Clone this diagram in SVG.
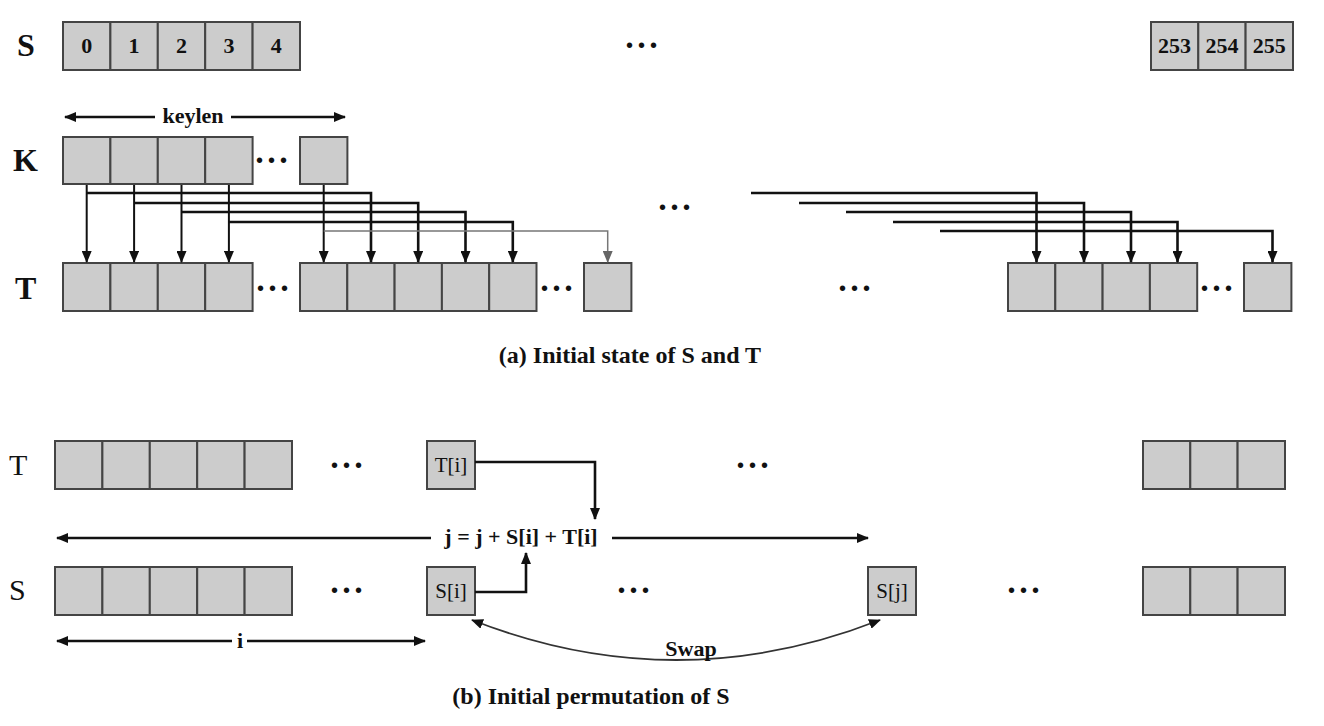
<svg xmlns="http://www.w3.org/2000/svg" width="1324" height="726" viewBox="0 0 1324 726">
<style>
.cell{fill:#cccccc;stroke:#444;stroke-width:2}
.lbl{font-family:"Liberation Serif",serif;font-weight:bold;font-size:32px;fill:#111}
.lblr{font-family:"Liberation Serif",serif;font-size:30px;fill:#111}
.num{font-family:"Liberation Serif",serif;font-weight:bold;font-size:22px;fill:#111;text-anchor:middle}
.t{font-family:"Liberation Serif",serif;font-weight:bold;font-size:22px;fill:#111;text-anchor:middle}
.tr{font-family:"Liberation Serif",serif;font-size:21px;fill:#111;text-anchor:middle}
.cap{font-family:"Liberation Serif",serif;font-weight:bold;font-size:24px;fill:#111;text-anchor:middle}
.dots{font-family:"Liberation Sans",sans-serif;font-size:20px;letter-spacing:5px;fill:#111}
.ln{fill:none;stroke:#111;stroke-width:2.6}
.lv{fill:none;stroke:#111;stroke-width:2}
.lg{fill:none;stroke:#777;stroke-width:1.5}
</style>
<defs>
<marker id="ah" markerWidth="12" markerHeight="10" refX="11" refY="5" orient="auto-start-reverse" markerUnits="userSpaceOnUse" viewBox="0 0 12 10"><path d="M0,0 L12,5 L0,10 z" fill="#111"/></marker>
<marker id="ahg" markerWidth="12" markerHeight="10" refX="11" refY="5" orient="auto-start-reverse" markerUnits="userSpaceOnUse" viewBox="0 0 12 10"><path d="M0,0 L12,5 L0,10 z" fill="#666"/></marker>
</defs>
<rect width="1324" height="726" fill="#fff"/>

<!-- (a) -->
<g id="S-top">
<text class="lbl" x="17" y="56">S</text>
<rect class="cell" x="63" y="22" width="47.4" height="48"/>
<rect class="cell" x="110.4" y="22" width="47.4" height="48"/>
<rect class="cell" x="157.8" y="22" width="47.4" height="48"/>
<rect class="cell" x="205.2" y="22" width="47.4" height="48"/>
<rect class="cell" x="252.6" y="22" width="47.4" height="48"/>
<text class="num" x="86.7" y="53">0</text>
<text class="num" x="134.1" y="53">1</text>
<text class="num" x="181.5" y="53">2</text>
<text class="num" x="228.9" y="53">3</text>
<text class="num" x="276.3" y="53">4</text>
<text class="dots" x="626" y="52">•••</text>
<rect class="cell" x="1151" y="22" width="47.3" height="48"/>
<rect class="cell" x="1198.3" y="22" width="47.3" height="48"/>
<rect class="cell" x="1245.6" y="22" width="47.4" height="48"/>
<text class="num" x="1174.6" y="53">253</text>
<text class="num" x="1222" y="53">254</text>
<text class="num" x="1269.3" y="53">255</text>
</g>

<g id="keylen">
<path class="ln" d="M155,117 H65" marker-end="url(#ah)"/>
<path class="ln" d="M231,117 H345" marker-end="url(#ah)"/>
<text class="t" x="193" y="123">keylen</text>
</g>

<g id="K">
<text class="lbl" x="13" y="171">K</text>
<rect class="cell" x="63" y="137" width="47.4" height="47"/>
<rect class="cell" x="110.4" y="137" width="47.4" height="47"/>
<rect class="cell" x="157.8" y="137" width="47.4" height="47"/>
<rect class="cell" x="205.2" y="137" width="47.4" height="47"/>
<text class="dots" x="256" y="167">•••</text>
<rect class="cell" x="300" y="137" width="47.4" height="47"/>
</g>

<g id="T-top">
<text class="lbl" x="15" y="299">T</text>
<rect class="cell" x="63" y="263" width="47.4" height="48"/>
<rect class="cell" x="110.4" y="263" width="47.4" height="48"/>
<rect class="cell" x="157.8" y="263" width="47.4" height="48"/>
<rect class="cell" x="205.2" y="263" width="47.4" height="48"/>
<text class="dots" x="257" y="295">•••</text>
<rect class="cell" x="300" y="263" width="47.3" height="48"/>
<rect class="cell" x="347.3" y="263" width="47.3" height="48"/>
<rect class="cell" x="394.6" y="263" width="47.3" height="48"/>
<rect class="cell" x="441.9" y="263" width="47.3" height="48"/>
<rect class="cell" x="489.2" y="263" width="47.3" height="48"/>
<text class="dots" x="541" y="295">•••</text>
<rect class="cell" x="584" y="263" width="47.4" height="48"/>
<text class="dots" x="839" y="295">•••</text>
<rect class="cell" x="1008" y="263" width="47.3" height="48"/>
<rect class="cell" x="1055.3" y="263" width="47.3" height="48"/>
<rect class="cell" x="1102.6" y="263" width="47.3" height="48"/>
<rect class="cell" x="1149.9" y="263" width="47.3" height="48"/>
<text class="dots" x="1201" y="295">•••</text>
<rect class="cell" x="1244" y="263" width="47.4" height="48"/>
<text class="dots" x="659" y="214">•••</text>
</g>

<g id="connectors-a">
<path class="lv" d="M86.7,185 V262" marker-end="url(#ah)"/>
<path class="lv" d="M134.1,185 V262" marker-end="url(#ah)"/>
<path class="lv" d="M181.5,185 V262" marker-end="url(#ah)"/>
<path class="lv" d="M228.9,185 V262" marker-end="url(#ah)"/>
<path class="lv" d="M323.7,185 V262" marker-end="url(#ah)"/>
<path class="ln" d="M86.7,193 H371 V262" marker-end="url(#ah)"/>
<path class="ln" d="M134.1,203 H418.2 V262" marker-end="url(#ah)"/>
<path class="ln" d="M181.5,212 H465.5 V262" marker-end="url(#ah)"/>
<path class="ln" d="M228.9,222 H512.8 V262" marker-end="url(#ah)"/>
<path class="lg" d="M323.7,231 H607.7 V262" marker-end="url(#ahg)"/>
<path class="ln" d="M751,193 H1036.5 V262" marker-end="url(#ah)"/>
<path class="ln" d="M799,203 H1084 V262" marker-end="url(#ah)"/>
<path class="ln" d="M846,212 H1131 V262" marker-end="url(#ah)"/>
<path class="ln" d="M893,222 H1177.5 V262" marker-end="url(#ah)"/>
<path class="ln" d="M940,231 H1272.5 V262" marker-end="url(#ah)"/>
</g>

<text class="cap" x="630" y="363">(a) Initial state of S and T</text>

<!-- (b) -->
<g id="T-bottom">
<text class="lblr" x="9" y="475">T</text>
<rect class="cell" x="55" y="441" width="47.4" height="48"/>
<rect class="cell" x="102.4" y="441" width="47.4" height="48"/>
<rect class="cell" x="149.8" y="441" width="47.4" height="48"/>
<rect class="cell" x="197.2" y="441" width="47.4" height="48"/>
<rect class="cell" x="244.6" y="441" width="47.4" height="48"/>
<text class="dots" x="331" y="472">•••</text>
<text class="dots" x="737" y="472">•••</text>
<rect class="cell" x="1143" y="441" width="47.3" height="48"/>
<rect class="cell" x="1190.3" y="441" width="47.3" height="48"/>
<rect class="cell" x="1237.6" y="441" width="47.4" height="48"/>
</g>
<g id="Ti">
<rect class="cell" x="427" y="441" width="48" height="48"/>
<text class="tr" x="451" y="472">T[i]</text>
</g>

<g id="S-bottom">
<text class="lblr" x="9" y="600">S</text>
<rect class="cell" x="55" y="567" width="47.4" height="48"/>
<rect class="cell" x="102.4" y="567" width="47.4" height="48"/>
<rect class="cell" x="149.8" y="567" width="47.4" height="48"/>
<rect class="cell" x="197.2" y="567" width="47.4" height="48"/>
<rect class="cell" x="244.6" y="567" width="47.4" height="48"/>
<text class="dots" x="331" y="597">•••</text>
<text class="dots" x="618" y="597">•••</text>
<text class="dots" x="1008" y="597">•••</text>
<rect class="cell" x="1143" y="567" width="47.3" height="48"/>
<rect class="cell" x="1190.3" y="567" width="47.3" height="48"/>
<rect class="cell" x="1237.6" y="567" width="47.4" height="48"/>
</g>
<g id="Si">
<rect class="cell" x="427" y="567" width="48" height="48"/>
<text class="tr" x="451" y="598">S[i]</text>
</g>
<g id="Sj">
<rect class="cell" x="868" y="567" width="48" height="48"/>
<text class="tr" x="892" y="598">S[j]</text>
</g>

<g id="connectors-b">
<path class="ln" d="M475,462 H595 V519" marker-end="url(#ah)"/>
<path class="ln" d="M475,592 H526 V553" marker-end="url(#ah)"/>
<path class="ln" d="M431,538 H57" marker-end="url(#ah)"/>
<path class="ln" d="M612,538 H868" marker-end="url(#ah)"/>
<path class="ln" d="M232,641 H57" marker-end="url(#ah)"/>
<path class="ln" d="M247,641 H425" marker-end="url(#ah)"/>
<path d="M472,620 Q676,700 880,620" fill="none" stroke="#333" stroke-width="1.8" marker-start="url(#ah)" marker-end="url(#ah)"/>
</g>
<text class="t" x="521" y="544" font-size="24">j = j + S[i] + T[i]</text>
<text class="t" x="240" y="648" font-size="24">i</text>
<text class="t" x="691" y="656">Swap</text>

<text class="cap" x="591" y="704">(b) Initial permutation of S</text>
</svg>
